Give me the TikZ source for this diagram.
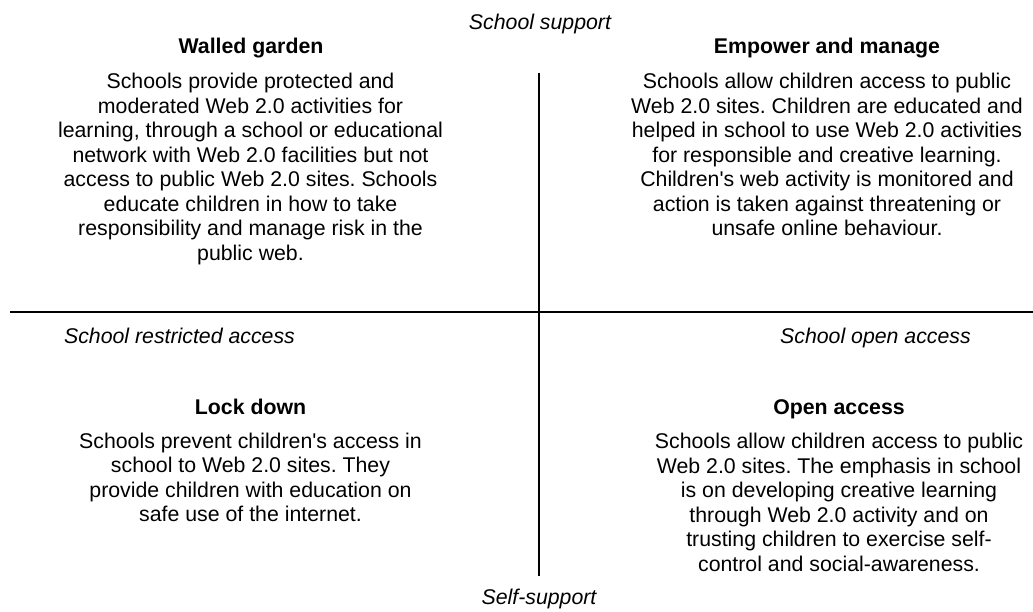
\documentclass[tikz,border=0pt]{standalone}
\usepackage{fontspec}
\setmainfont{Liberation Sans}
\frenchspacing
\begin{document}
\begin{tikzpicture}[x=1pt,y=-1pt,
  body/.style={inner sep=0pt, align=center, font=\fontsize{21.3}{24.5}\selectfont, anchor=base},
  head/.style={inner sep=0pt, font=\fontsize{21.3}{24.5}\selectfont\bfseries, anchor=base},
  axis/.style={inner sep=0pt, font=\fontsize{21.3}{24.5}\selectfont\itshape, anchor=base},
  divider/.style={line width=2pt, black}]
\useasboundingbox (0,0) rectangle (1033,612);
\node[axis] (top) at (540,30) {School support};
\node[axis] (bottom) at (539,604) {Self-support};
\node[axis] (left) at (179.5,343) {School restricted access};
\node[axis] (right) at (875.5,343) {School open access};
\node[head] (wgh) at (251,54) {Walled garden};
\node[head] (emh) at (827,54) {Empower and manage};
\node[head] (ldh) at (250.5,414) {Lock down};
\node[head] (oah) at (839,414) {Open access};
\node[body] (wg) at (250.5,260.5) {Schools provide protected and\\moderated Web 2.0 activities for\\learning, through a school or educational\\network with Web 2.0 facilities but not\\access to public Web 2.0 sites. Schools\\educate children in how to take\\responsibility and manage risk in the\\public web.};
\node[body] (em) at (827,236) {Schools allow children access to public\\Web 2.0 sites. Children are educated and\\helped in school to use Web 2.0 activities\\for responsible and creative learning.\\Children\textquotesingle s web activity is monitored and\\action is taken against threatening or\\unsafe online behaviour.};
\node[body] (ld) at (250.5,521.5) {Schools prevent children\textquotesingle s access in\\school to Web 2.0 sites. They\\provide children with education on\\safe use of the internet.};
\node[body] (oa) at (839,571) {Schools allow children access to public\\Web 2.0 sites. The emphasis in school\\is on developing creative learning\\through Web 2.0 activity and on\\trusting children to exercise self-\\control and social-awareness.};
\coordinate (vt) at (538.5,73);
\coordinate (vb) at (538.5,575.5);
\coordinate (hl) at (10,312);
\coordinate (hr) at (1033,312);
\draw[divider] (vt) -- (vb);
\draw[divider] (hl) -- (hr);
\end{tikzpicture}
\end{document}
